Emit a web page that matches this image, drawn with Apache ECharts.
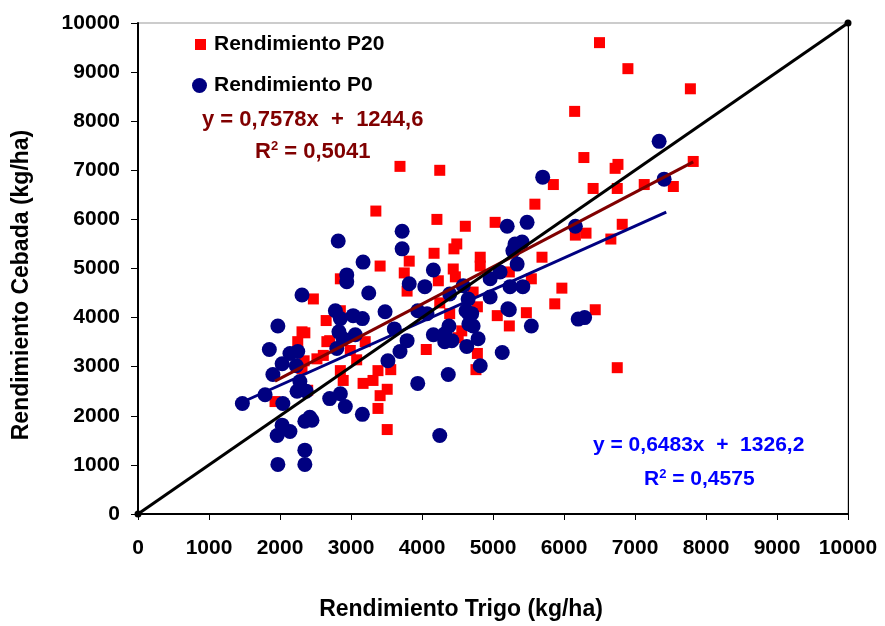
<!DOCTYPE html>
<html>
<head>
<meta charset="utf-8">
<script src="https://cdn.jsdelivr.net/npm/echarts@6/dist/echarts.min.js"></script>
<style>
html,body{margin:0;padding:0;background:#fff;}
#chart{width:885px;height:626px;}
</style>
</head>
<body>
<div id="chart"></div>
<script>
// datos (kg/ha)
var p20 = [
  [6500,9600],[6900,9070],[7780,8660],[6150,8200],[6280,7260],[6760,7120],[6720,7040],
  [5850,6710],[6410,6630],[6750,6630],[7130,6710],[7540,6670],[7820,7180],[5590,6310],
  [6160,5680],[6310,5720],[6820,5900],[6660,5600],[5690,5230],[5230,4930],[5540,4790],
  [5970,4600],[5870,4280],[6440,4160],[5470,4100],[5230,3830],[6750,2980],[3690,7080],
  [4250,7000],[3350,6170],[4210,6000],[4610,5860],[5030,5940],[4490,5500],[4450,5400],
  [4170,5310],[3820,5150],[3410,5050],[4820,5230],[4820,5050],[4440,4990],[4470,4830],
  [3750,4910],[4230,4750],[3790,4540],[2850,4790],[4720,4520],[4780,4220],[4250,4300],
  [5060,4040],[2850,4140],[2700,3530],[3200,3510],[2990,3330],[3080,3140],[2850,2920],
  [2890,2720],[3170,2660],[3310,2720],[3380,2920],[3560,2940],[3410,2410],[3510,2540],
  [3380,2150],[3510,1720],[4060,3350],[4390,4080],[4560,3730],[4510,3590],[4780,3270],
  [4760,2940],[2470,4380],[2310,3710],[2350,3690],[2250,3510],[2660,3510],[2650,3940],
  [2520,3160],[2610,3230],[2340,3120],[2310,2960],[1930,2290],[2390,2520]
];
var p0 = [
  [7340,7590],[7410,6820],[5700,6860],[5200,5860],[5480,5940],[6160,5860],[5310,5500],
  [5410,5540],[5280,5360],[5340,5090],[5100,4930],[5240,4630],[5420,4630],[5230,4160],
  [5540,3830],[6200,3970],[6290,4000],[5130,3290],[3720,5760],[3720,5400],[2820,5560],
  [3170,5130],[2940,4870],[2940,4730],[3820,4690],[4160,4970],[4040,4630],[3250,4500],
  [4960,4790],[4580,4650],[4390,4480],[4650,4380],[4960,4420],[4620,4140],[4700,4080],
  [5210,4180],[3480,4120],[2780,4140],[3030,4040],[3160,3980],[2830,3710],[3060,3650],
  [2800,3370],[3610,3770],[3790,3530],[3690,3310],[3520,3120],[3940,2660],[4370,2840],
  [2850,2450],[2920,2190],[3160,2030],[4250,1600],[2700,2350],[4160,3650],[4320,3510],
  [4420,3530],[4320,3670],[4380,3830],[4630,3410],[4790,3570],[4660,3870],[4720,3830],
  [4660,4080],[4820,3020],[3940,4140],[4070,4080],[2310,4460],[1970,3830],[1850,3350],
  [2850,3980],[2890,3570],[2140,3270],[2250,3310],[2030,3060],[2230,3020],[1900,2840],
  [2280,2700],[2240,2500],[2370,2500],[1790,2430],[1470,2250],[2040,2250],[2420,1970],
  [2030,1810],[1960,1600],[2140,1680],[2350,1890],[2450,1910],[2350,1300],[2350,1010],
  [1970,1010]
];
// lineas de tendencia (extremos)
var trendP20 = [[1930,2707],[7820,7170]];
var trendP0 = [[1465,2276],[7440,6149]];
var linea11 = [[0,0],[10000,10000]];

var font = '"Liberation Sans", Arial, sans-serif';
var negro = '#000';
function sinComa(v){ return String(v); }

var chart = echarts.init(document.getElementById('chart'));
var option = {
  animation: false,
  textStyle: {fontFamily: font},
  grid: {left: 138, right: 37, top: 23, bottom: 110, show: true, borderColor: '#999', borderWidth: 1},
  legend: [{
    left: 195, top: 34, padding: 0, itemWidth: 11, itemHeight: 11, itemGap: 0,
    textStyle: {fontFamily: font, fontWeight: 'bold', fontSize: 21, color: negro, padding: [0, 0, 0, 3]},
    data: [{name: 'Rendimiento P20', icon: 'rect'}]
  }, {
    left: 192, top: 75, padding: 0, itemWidth: 15, itemHeight: 15, itemGap: 0,
    textStyle: {fontFamily: font, fontWeight: 'bold', fontSize: 21, color: negro, padding: [0, 0, 0, 2]},
    data: [{name: 'Rendimiento P0', icon: 'circle'}]
  }],
  xAxis: {
    type: 'value', min: 0, max: 10000, interval: 1000,
    name: 'Rendimiento Trigo (kg/ha)', nameLocation: 'middle', nameGap: 84,
    nameTextStyle: {fontFamily: font, fontWeight: 'bold', fontSize: 23, color: negro, padding: [0, 64, 0, 0]},
    axisLine: {lineStyle: {color: negro, width: 2}},
    axisTick: {show: true, length: 6, lineStyle: {color: negro, width: 1}},
    axisLabel: {margin: 24, fontFamily: font, fontWeight: 'bold', fontSize: 21, color: negro, formatter: sinComa},
    splitLine: {show: false}
  },
  yAxis: [{
    type: 'value', min: 0, max: 10000, interval: 1000,
    name: 'Rendimiento Cebada (kg/ha)', nameLocation: 'middle', nameGap: 105,
    nameTextStyle: {fontFamily: font, fontWeight: 'bold', fontSize: 23, color: negro, padding: [0, 33, 0, 0]},
    axisLine: {lineStyle: {color: negro, width: 2}},
    axisTick: {show: true, length: 7, lineStyle: {color: negro, width: 1}},
    axisLabel: {margin: 18, fontFamily: font, fontWeight: 'bold', fontSize: 21, color: negro, formatter: sinComa},
    splitLine: {show: false}
  }, {
    type: 'value', min: 0, max: 10000, position: 'right',
    axisLine: {show: true, lineStyle: {color: negro, width: 1}},
    axisTick: {show: false}, axisLabel: {show: false}, splitLine: {show: false}
  }],
  series: [
    {
      name: 'Rendimiento P20', type: 'scatter', data: p20,
      symbol: 'rect', symbolSize: 11, itemStyle: {color: '#ff0000', opacity: 1}, z: 2
    },
    {
      name: 'Rendimiento P0', type: 'scatter', data: p0,
      symbol: 'circle', symbolSize: 15, itemStyle: {color: '#000080', opacity: 1}, z: 3
    },
    {
      type: 'line', data: trendP20, showSymbol: false, symbol: 'none',
      lineStyle: {color: '#800000', width: 3}, z: 4
    },
    {
      type: 'line', data: trendP0, showSymbol: false, symbol: 'none',
      lineStyle: {color: '#000080', width: 3}, z: 4
    },
    {
      type: 'line', data: linea11, symbol: 'circle', symbolSize: 7,
      itemStyle: {color: negro}, lineStyle: {color: negro, width: 3}, z: 5
    }
  ],
  graphic: [
    {type: 'text', left: 202, top: 109, z: 10, style: {
      text: 'y = 0,7578x  +  1244,6', fill: '#800000', font: 'bold 22px ' + font}},
    {type: 'text', left: 255, top: 140, z: 10, style: {
      text: '{a|R}{s|2}{a| = 0,5041}', rich: {
        a: {fill: '#800000', font: 'bold 22px ' + font},
        s: {fill: '#800000', font: 'bold 13px ' + font, verticalAlign: 'top', padding: [0, 0, 10, 0]}
      }}},
    {type: 'text', left: 593, top: 435, z: 10, style: {
      text: 'y = 0,6483x  +  1326,2', fill: '#0000ff', font: 'bold 21px ' + font}},
    {type: 'text', left: 644, top: 468, z: 10, style: {
      text: '{a|R}{s|2}{a| = 0,4575}', rich: {
        a: {fill: '#0000ff', font: 'bold 21px ' + font},
        s: {fill: '#0000ff', font: 'bold 13px ' + font, verticalAlign: 'top', padding: [0, 0, 10, 0]}
      }}}
  ]
};
chart.setOption(option);
</script>
</body>
</html>
